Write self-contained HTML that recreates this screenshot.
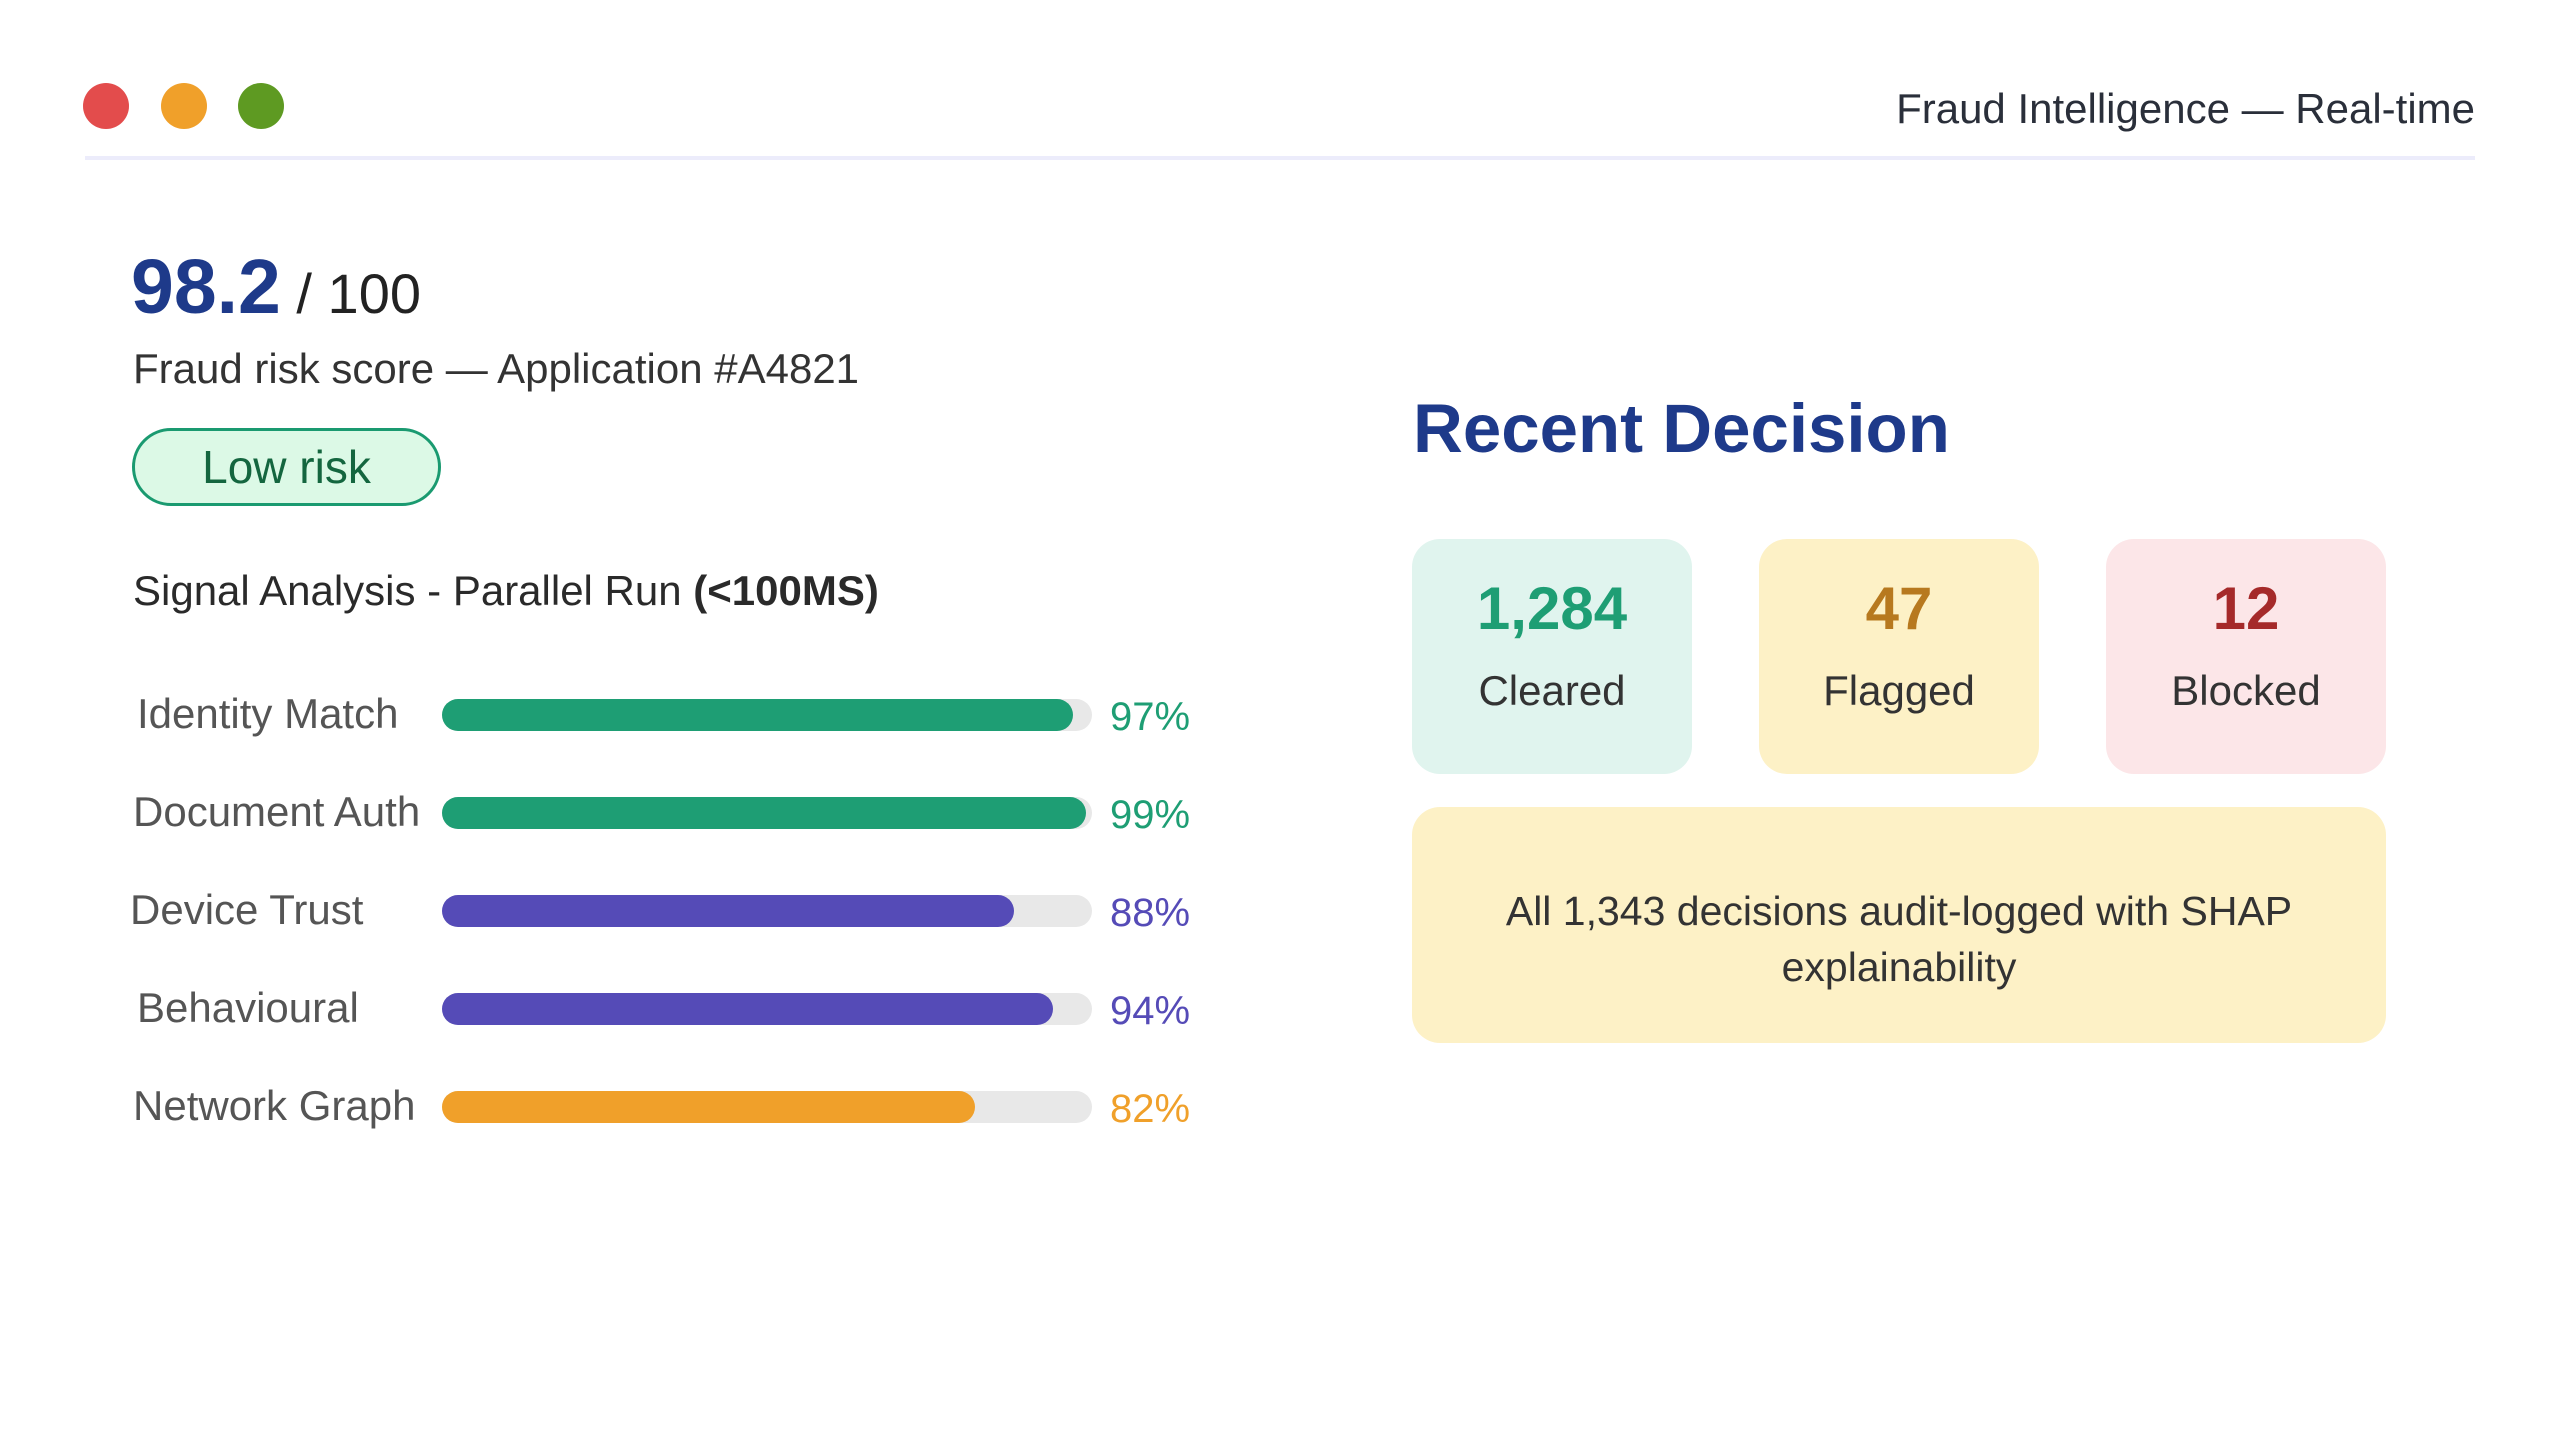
<!DOCTYPE html>
<html><head><meta charset="utf-8"><style>
*{margin:0;padding:0;box-sizing:border-box}
body{width:2560px;height:1434px;background:#fff;position:relative;overflow:hidden;font-family:"Liberation Sans",sans-serif;color:#333}
.a{position:absolute}
.dot{position:absolute;width:46px;height:46px;border-radius:50%;top:83px}
.card{position:absolute;top:539px;width:280px;height:235px;border-radius:28px;text-align:center}
.num{position:absolute;left:0;right:0;top:35px;font-weight:bold;font-size:60px;line-height:70px}
.lab{position:absolute;left:0;right:0;top:127px;font-size:42px;line-height:50px;color:#333}
</style></head><body>
<div class="dot" style="left:83px;background:#e34c4c"></div>
<div class="dot" style="left:161px;background:#f0a02a"></div>
<div class="dot" style="left:238px;background:#5e9a22"></div>
<div class="a" style="right:85px;top:83px;font-size:42px;line-height:52px;color:#2a2f3a">Fraud Intelligence — Real-time</div>
<div class="a" style="left:85px;top:156px;width:2390px;height:4px;background:#ececfb"></div>

<div class="a" style="left:131px;top:244px;line-height:86px;white-space:nowrap"><span style="font-size:77px;font-weight:bold;color:#1e3a8a">98.2</span><span style="font-size:56px;color:#222"> / 100</span></div>
<div class="a" style="left:133px;top:344px;font-size:42px;line-height:50px;color:#333;white-space:nowrap">Fraud risk score — Application #A4821</div>
<div class="a" style="left:132px;top:428px;width:309px;height:78px;border:3px solid #1a9a70;border-radius:39px;background:#dcf9e6;color:#14663f;font-size:46px;line-height:72px;text-align:center">Low risk</div>
<div class="a" style="left:133px;top:566px;font-size:42px;line-height:50px;color:#2a2a2a;white-space:nowrap">Signal Analysis - Parallel Run <b>(&lt;100MS)</b></div>

<div id="bars"></div>

<div class="a" style="left:1413px;top:389px;font-size:69px;font-weight:bold;color:#1e3a8a;line-height:80px;white-space:nowrap">Recent Decision</div>
<div class="card" style="left:1412px;background:#e0f4ee"><div class="num" style="color:#1e9e74">1,284</div><div class="lab">Cleared</div></div>
<div class="card" style="left:1759px;background:#fdf1c6"><div class="num" style="color:#b7791f">47</div><div class="lab">Flagged</div></div>
<div class="card" style="left:2106px;background:#fce6e8"><div class="num" style="color:#a52a2a">12</div><div class="lab">Blocked</div></div>
<div class="a" style="left:1412px;top:807px;width:974px;height:236px;border-radius:28px;background:#fdf1c6;text-align:center;font-size:41px;line-height:56px;color:#333;padding:76px 60px 0">All 1,343 decisions audit-logged with SHAP explainability</div>

<script>
const signalNames=["Identity Match","Document Auth","Device Trust","Behavioural","Network Graph"];
const signalValues=[97,99,88,94,82];
const signalColors=["#1e9e74","#1e9e74","#554bb7","#554bb7","#f0a02a"];
const labelX=[137,133,130,137,133];
const host=document.getElementById('bars');
const trackX=442,trackW=650,top0=715,step=98;
function xScale(v){return v/100*trackW;}
signalNames.forEach((n,i)=>{
  const cy=top0+i*step;
  const l=document.createElement('div');
  
  
  l.className='a';l.textContent=n;
  l.style.cssText=`left:${labelX[i]}px;top:${cy-26}px;font-size:42px;line-height:50px;color:#555;white-space:nowrap`;
  host.appendChild(l);
  const t=document.createElement('div');
  
  
  t.className='a';
  t.style.cssText=`left:${trackX}px;top:${cy-16}px;width:${trackW}px;height:32px;border-radius:16px;background:#e8e8e8`;
  host.appendChild(t);
  const f=document.createElement('div');
  
  
  f.className='a';
  f.style.cssText=`left:${trackX}px;top:${cy-16}px;width:${xScale(signalValues[i])}px;height:32px;border-radius:16px;background:${signalColors[i]}`;
  host.appendChild(f);
  const p=document.createElement('div');
  
  
  p.className='a';p.textContent=signalValues[i]+'%';
  p.style.cssText=`left:1110px;top:${cy-23}px;font-size:40px;line-height:50px;color:${signalColors[i]}`;
  host.appendChild(p);
});
</script>
</body></html>
